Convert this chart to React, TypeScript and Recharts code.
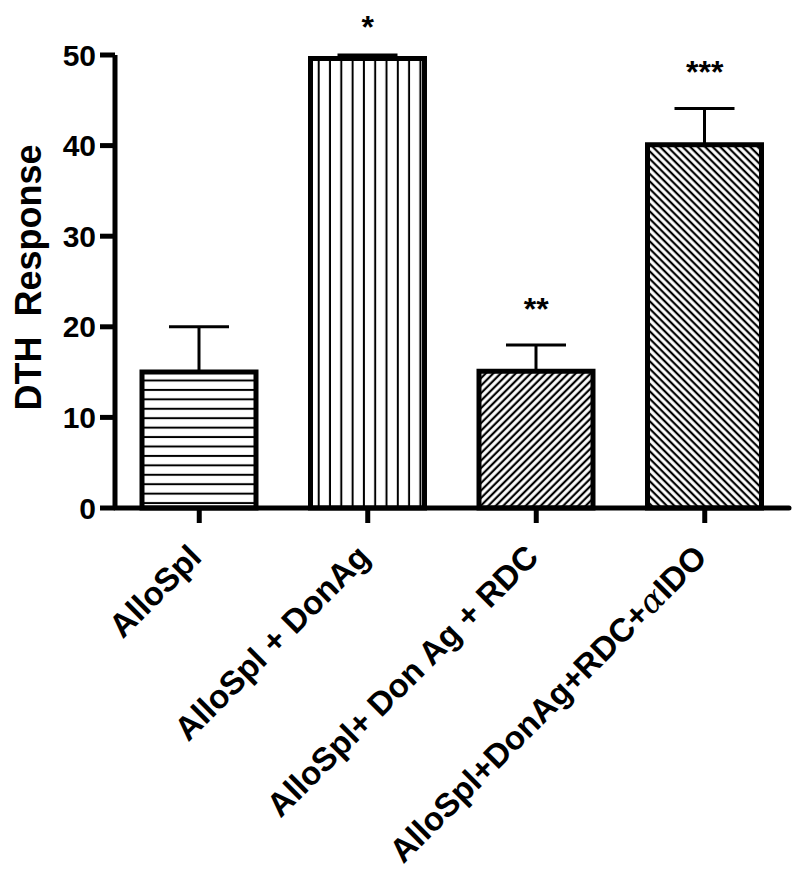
import {
  Bar,
  Cell,
  ComposedChart,
  ErrorBar,
  LabelList,
  Line,
  XAxis,
  YAxis,
} from "recharts";

const groups = [
  "AlloSpl",
  "AlloSpl + DonAg",
  "AlloSpl+ Don Ag + RDC",
  "AlloSpl+DonAg+RDC+\u03b1IDO",
];
const dthMean = [15, 49.6, 15.1, 40.1];
const dthSem = [5, 0.4, 2.9, 4];
const significance = ["", "*", "**", "***"];
const yTicks = [0, 10, 20, 30, 40, 50];

const hatchIds = ["hatch-h", "hatch-v", "hatch-fwd", "hatch-back"];

const data = groups.map((group, i) => ({
  group,
  mean: dthMean[i],
  err: [0, dthSem[i]],
  top: dthMean[i] + dthSem[i],
  stars: significance[i],
}));

const FONT = '"Liberation Sans", Arial, Helvetica, sans-serif';

function GroupTick({ x, y, payload }: any) {
  const [head, tail] = String(payload.value).split("\u03b1");
  const px = x + 4;
  const py = y + 34;
  return (
    <text
      x={px}
      y={py}
      transform={`rotate(-45 ${px} ${py})`}
      textAnchor="end"
      fontSize={33}
      fontWeight="bold"
      fill="#000"
    >
      {head}
      {tail !== undefined && (
        <tspan fontFamily="DejaVu Serif" fontStyle="italic" fontWeight="normal">
          {"\u03b1"}
        </tspan>
      )}
      {tail !== undefined && <tspan>{tail}</tspan>}
    </text>
  );
}

function YTitle({ viewBox }: any) {
  const cy = viewBox.y + viewBox.height / 2 - 4;
  const bx = 33;
  return (
    <text
      x={bx}
      y={cy}
      transform={`rotate(-90 ${bx} ${cy})`}
      textAnchor="middle"
      fontSize={36}
      fontWeight="bold"
      fill="#000"
    >
      {"DTH\u00a0\u00a0Response"}
    </text>
  );
}

// significance marks sit above the error cap; keep them inside the frame
function StarLabel({ x, y, value }: any) {
  if (!value) return null;
  const by = Math.max(y - 25, 30);
  return (
    <text x={x} y={by} textAnchor="middle" fontSize={32} fontWeight="bold" fill="#000">
      {value}
    </text>
  );
}

export default function App() {
  return (
    <div style={{ width: 784, height: 860, fontFamily: FONT }}>
      <ComposedChart
        width={784}
        height={860}
        data={data}
        margin={{ top: 47, right: 3, bottom: 3, left: 0 }}
      >
        <defs>
          <pattern id="hatch-h" patternUnits="userSpaceOnUse" width={10} height={9.43}>
            <line x1={0} y1={4.7} x2={10} y2={4.7} stroke="#000" strokeWidth={2} />
          </pattern>
          <pattern id="hatch-v" patternUnits="userSpaceOnUse" width={11.3} height={10}>
            <line x1={5.6} y1={0} x2={5.6} y2={10} stroke="#000" strokeWidth={2} />
          </pattern>
          <pattern
            id="hatch-fwd"
            patternUnits="userSpaceOnUse"
            width={5.3}
            height={10}
            patternTransform="rotate(45)"
          >
            <line x1={2.6} y1={0} x2={2.6} y2={10} stroke="#000" strokeWidth={2.2} />
          </pattern>
          <pattern
            id="hatch-back"
            patternUnits="userSpaceOnUse"
            width={5.3}
            height={10}
            patternTransform="rotate(-45)"
          >
            <line x1={2.6} y1={0} x2={2.6} y2={10} stroke="#000" strokeWidth={2.2} />
          </pattern>
        </defs>
        <XAxis
          dataKey="group"
          interval={0}
          height={357}
          tickSize={15}
          tickMargin={2}
          axisLine={{ stroke: "#000", strokeWidth: 5, strokeLinecap: "round" }}
          tickLine={{ stroke: "#000", strokeWidth: 5 }}
          tick={<GroupTick />}
        />
        <YAxis
          domain={[0, 50]}
          ticks={yTicks}
          width={107}
          tickSize={15}
          tickMargin={4}
          axisLine={{ stroke: "#000", strokeWidth: 5 }}
          tickLine={{ stroke: "#000", strokeWidth: 5 }}
          tick={{ fill: "#000", fontSize: 30, fontWeight: "bold" }}
          label={{ content: <YTitle /> }}
        />
        <Bar
          dataKey="mean"
          barSize={114}
          stroke="#000"
          strokeWidth={5}
          isAnimationActive={false}
        >
          {data.map((d, i) => (
            <Cell key={d.group} fill={`url(#${hatchIds[i]})`} />
          ))}
          <ErrorBar
            dataKey="err"
            direction="y"
            width={30}
            stroke="#000"
            strokeWidth={3}
            isAnimationActive={false}
          />
        </Bar>
        <Line
          dataKey="top"
          stroke="none"
          dot={false}
          activeDot={false}
          legendType="none"
          isAnimationActive={false}
        >
          <LabelList dataKey="stars" content={<StarLabel />} />
        </Line>
      </ComposedChart>
    </div>
  );
}
